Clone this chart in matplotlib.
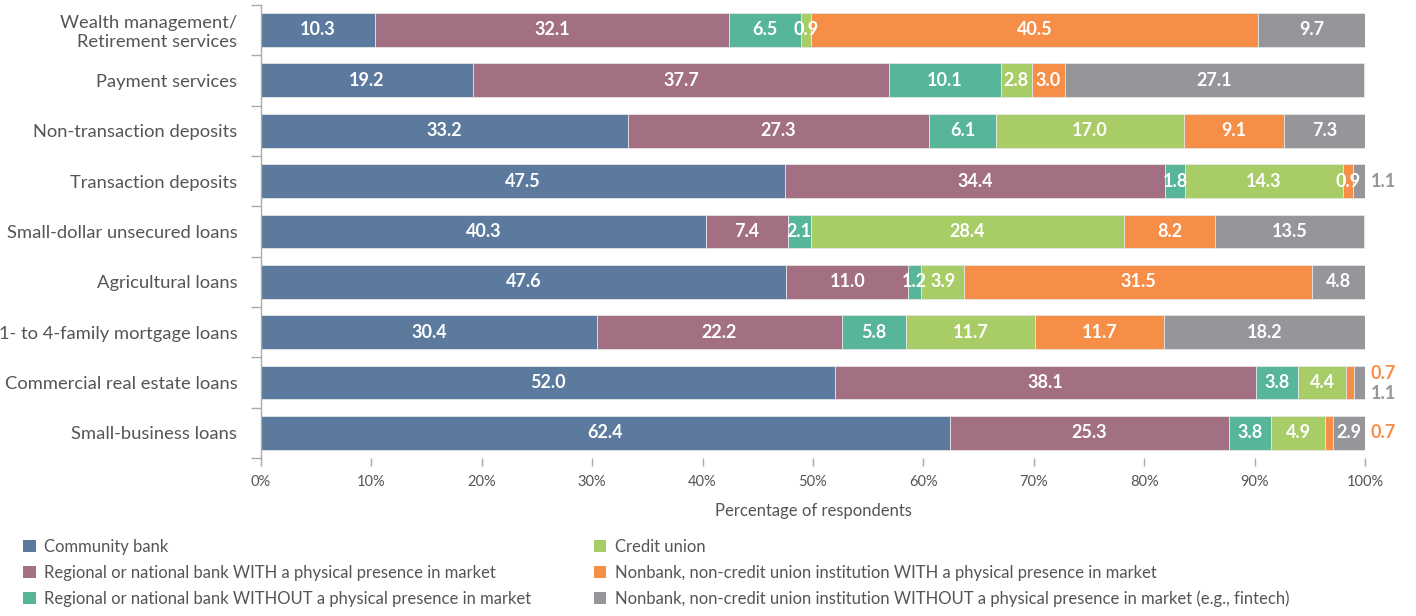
import numpy as np
import matplotlib
matplotlib.use("Agg")
import matplotlib.pyplot as plt
from matplotlib.patches import Patch

plt.rcParams['font.family'] = ['Lato', 'DejaVu Sans']

# Data
categories = ["Wealth management/\nRetirement services", "Payment services",
              "Non-transaction deposits", "Transaction deposits",
              "Small-dollar unsecured loans", "Agricultural loans",
              "1- to 4-family mortgage loans", "Commercial real estate loans",
              "Small-business loans"]
series_names = ["Community bank",
                "Regional or national bank WITH a physical presence in market",
                "Regional or national bank WITHOUT a physical presence in market",
                "Credit union",
                "Nonbank, non-credit union institution WITH a physical presence in market",
                "Nonbank, non-credit union institution WITHOUT a physical presence in market (e.g., fintech)"]
community = [10.3, 19.2, 33.2, 47.5, 40.3, 47.6, 30.4, 52.0, 62.4]
regional_with = [32.1, 37.7, 27.3, 34.4, 7.4, 11.0, 22.2, 38.1, 25.3]
regional_without = [6.5, 10.1, 6.1, 1.8, 2.1, 1.2, 5.8, 3.8, 3.8]
credit_union = [0.9, 2.8, 17.0, 14.3, 28.4, 3.9, 11.7, 4.4, 4.9]
nonbank_with = [40.5, 3.0, 9.1, 0.9, 8.2, 31.5, 11.7, 0.7, 0.7]
nonbank_without = [9.7, 27.1, 7.3, 1.1, 13.5, 4.8, 18.2, 1.1, 2.9]
# labels drawn to the right of the bar: (row, series)
outside = [(3, 5), (7, 4), (7, 5), (8, 4)]

colors = ["#5b7a9d", "#a37083", "#57b59a", "#a8cc66", "#f68e47", "#96969a"]
series = [community, regional_with, regional_without, credit_union, nonbank_with, nonbank_without]

fig = plt.figure(figsize=(14.16, 6.16), dpi=100)
ax = fig.add_axes([0.1843, 0.2565, 0.7797, 0.7357])

y = np.arange(len(categories))
left = np.zeros(len(categories))
for s, (vals, col) in enumerate(zip(series, colors)):
    vals = np.array(vals)
    ax.barh(y, vals, left=left, height=0.67, color=col, edgecolor="#e6e6e6", linewidth=0.6)
    for i, v in enumerate(vals):
        if (i, s) in outside:
            continue
        ax.text(left[i] + v / 2, y[i], f"{v:.1f}", ha="center", va="center",
                color="white", fontsize=13, fontweight="bold")
    left += vals

# outside labels
out_offsets = {(3, 5): 0.0, (7, 4): -0.18, (7, 5): 0.22, (8, 4): 0.0}
for (i, s), dy in out_offsets.items():
    ax.text(100.5, y[i] + dy, f"{series[s][i]:.1f}", ha="left", va="center",
            color=colors[s], fontsize=13, fontweight="bold", clip_on=False)

ax.set_xlim(0, 100)
ax.set_ylim(len(categories) - 0.5, -0.5)
ax.set_yticks(y)
ax.set_yticklabels(categories, fontsize=13.2, color="#555555", linespacing=1.2)
ax.set_yticks(np.arange(-0.5, len(categories), 1.0), minor=True)
ax.tick_params(axis="y", which="major", length=0, pad=17)
ax.tick_params(axis="y", which="minor", length=7, color="#aaaaaa", width=1)
ax.set_xticks(np.arange(0, 101, 10))
ax.set_xticklabels([f"{t}%" for t in range(0, 101, 10)], fontsize=10.5, color="#555555")
ax.tick_params(axis="x", length=6, color="#aaaaaa", width=1, pad=6)
ax.set_xlabel("Percentage of respondents", fontsize=12, color="#555555", labelpad=10)

for sp in ["top", "right", "bottom"]:
    ax.spines[sp].set_visible(False)
ax.spines["left"].set_color("#aaaaaa")
ax.spines["left"].set_linewidth(1)

handles = [Patch(facecolor=c, edgecolor="none") for c in colors]
fig.legend(handles, series_names, loc="lower left", bbox_to_anchor=(0.006, -0.01),
           ncol=2, frameon=False, fontsize=12, labelcolor="#555555",
           handlelength=0.75, handleheight=0.75, handletextpad=0.5,
           columnspacing=3.75, labelspacing=0.6)

fig.savefig("out.png", dpi=100)
